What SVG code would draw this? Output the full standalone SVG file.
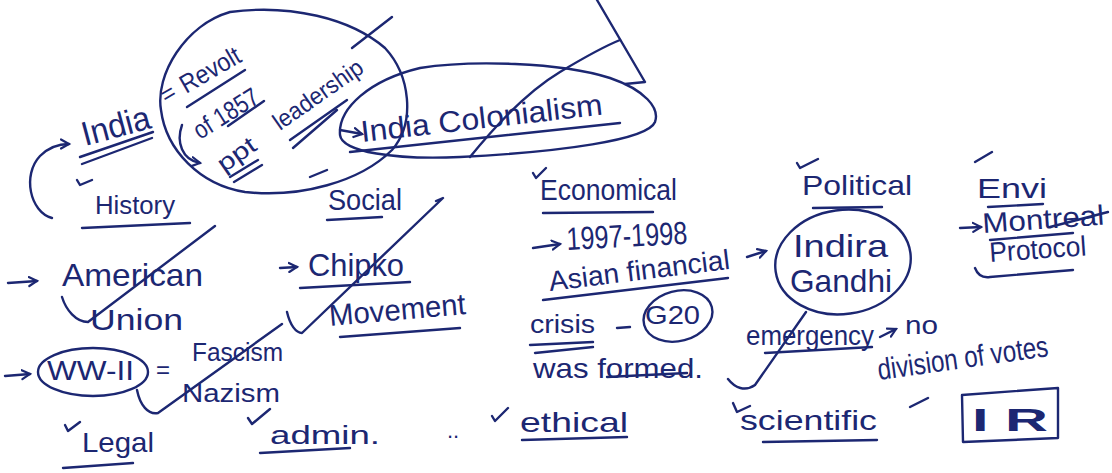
<svg xmlns="http://www.w3.org/2000/svg" width="1112" height="473" viewBox="0 0 1112 473">
<defs>
<style>
.t{font-family:"Liberation Sans","DejaVu Sans",sans-serif;fill:#1c2772;}
.s{fill:none;stroke:#1c2772;stroke-width:2.4;stroke-linecap:round;stroke-linejoin:round;}
</style>
<marker id="ah" markerUnits="userSpaceOnUse" markerWidth="12" markerHeight="12" refX="9" refY="5" orient="auto" viewBox="0 0 12 10">
<path d="M1,0.5 L9,5 L1,9.5" fill="none" stroke="#1c2772" stroke-width="2.2" stroke-linecap="round"/>
</marker>
</defs>
<rect width="1112" height="473" fill="#ffffff"/>

<g id="connectors">
<path class="s" d="M52,218 C30,212 22,175 40,156 C48,148 58,144 69,144" marker-end="url(#ah)"/>
<path class="s" d="M182,125 C176,142 182,160 200,163" marker-end="url(#ah)"/>
<path class="s" d="M8,283 L37,281" marker-end="url(#ah)"/>
<path class="s" d="M5,376 L30,374" marker-end="url(#ah)"/>
<path class="s" d="M280,268 L297,267" marker-end="url(#ah)"/>
<path class="s" d="M340,130 L362,134" marker-end="url(#ah)"/>
<path class="s" d="M533,248 L560,244" marker-end="url(#ah)"/>
<path class="s" d="M747,257 L766,251" marker-end="url(#ah)"/>
<path class="s" d="M880,337 L896,329" marker-end="url(#ah)"/>
<path class="s" d="M960,228 L981,227" marker-end="url(#ah)"/>
</g>

<g id="marks">
<path class="s" d="M597,0 L645,82 L625,84"/>
<path class="s" d="M470,157 C500,120 530,90 560,72 C580,60 600,48 620,40"/>
<path class="s" d="M392,17 L352,48"/>
<path class="s" d="M62,297 C66,310 76,322 88,322 L215,226"/>
<path class="s" d="M137,390 C140,405 148,415 158,413 L282,324"/>
<path class="s" d="M287,312 C290,325 296,333 302,333 L443,198 L436,201"/>
<path class="s" d="M728,379 C735,388 745,392 755,385 L806,312"/>
</g>

<g id="india">
<text class="t" x="85" y="146" font-size="34" textLength="70" lengthAdjust="spacingAndGlyphs" transform="rotate(-15 85 146)">India</text>
<path class="s" d="M80,157 L153,132 M82,164 L152,138"/>
</g>

<g id="history">
<path class="s" d="M77,180 L80,185 L92,180"/>
<text class="t" x="95" y="214" font-size="26" textLength="80" lengthAdjust="spacingAndGlyphs">History</text>
<path class="s" d="M82,228 L190,223"/>
</g>

<g id="revolt">
<path class="s" d="M230,12 C185,25 155,75 161,110 C166,150 200,185 245,192 C300,198 360,182 392,150 C416,122 410,75 385,48 C350,18 290,4 230,12 Z"/>
<text class="t" x="166" y="104" font-size="24" transform="rotate(-30 166 104)">=</text>
<text class="t" x="186" y="94" font-size="26" textLength="66" lengthAdjust="spacingAndGlyphs" transform="rotate(-30 186 94)">Revolt</text>
<path class="s" d="M187,107 L245,70"/>
<text class="t" x="200" y="140" font-size="26" textLength="72" lengthAdjust="spacingAndGlyphs" transform="rotate(-32 200 140)">of 1857</text>
<path class="s" d="M228,126 L264,101"/>
<text class="t" x="224" y="173" font-size="24" textLength="42" lengthAdjust="spacingAndGlyphs" transform="rotate(-35 224 173)">ppt</text>
<path class="s" d="M230,177 L258,160 M234,182 L262,165"/>
<text class="t" x="280" y="131" font-size="24" textLength="104" lengthAdjust="spacingAndGlyphs" transform="rotate(-35 280 131)">leadership</text>
<path class="s" d="M290,140 L347,100 M293,148 L337,110"/>
</g>

<g id="colonialism">
<path class="s" d="M340,135 C338,108 370,80 420,68 C470,60 560,62 610,78 C645,90 660,108 655,122 C648,140 560,152 460,157 C395,160 342,152 340,135 Z"/>
<text class="t" x="362" y="142" font-size="30" textLength="243" lengthAdjust="spacingAndGlyphs" transform="rotate(-6.5 362 142)">India Colonialism</text>
<path class="s" d="M350,152 L620,123"/>
</g>

<g id="social">
<path class="s" d="M310,177 L327,170"/>
<text class="t" x="328" y="210" font-size="30" textLength="74" lengthAdjust="spacingAndGlyphs">Social</text>
<path class="s" d="M327,220 L382,217"/>
</g>

<g id="chipko">
<text class="t" x="308" y="276" font-size="32" textLength="96" lengthAdjust="spacingAndGlyphs">Chipko</text>
<path class="s" d="M300,288 L410,282"/>
<text class="t" x="330" y="326" font-size="30" textLength="137" lengthAdjust="spacingAndGlyphs" transform="rotate(-5 330 326)">Movement</text>
<path class="s" d="M340,337 L460,328"/>
</g>

<g id="american">
<text class="t" x="62" y="286" font-size="32" textLength="141" lengthAdjust="spacingAndGlyphs">American</text>
<text class="t" x="90" y="330" font-size="30" textLength="93" lengthAdjust="spacingAndGlyphs">Union</text>
</g>

<g id="ww2">
<ellipse class="s" cx="93" cy="372" rx="55" ry="24"/>
<text class="t" x="47" y="380" font-size="28" textLength="87" lengthAdjust="spacingAndGlyphs">WW-II</text>
<text class="t" x="156" y="378" font-size="24">=</text>
<text class="t" x="192" y="361" font-size="26" textLength="91" lengthAdjust="spacingAndGlyphs">Fascism</text>
<text class="t" x="182" y="402" font-size="26" textLength="98" lengthAdjust="spacingAndGlyphs">Nazism</text>
</g>

<g id="legal">
<path class="s" d="M65,425 L68,431 L80,422"/>
<text class="t" x="82" y="452" font-size="28" textLength="72" lengthAdjust="spacingAndGlyphs">Legal</text>
<path class="s" d="M63,468 L133,463"/>
</g>

<g id="admin">
<path class="s" d="M248,418 L252,424 L270,409"/>
<text class="t" x="270" y="444" font-size="26" textLength="110" lengthAdjust="spacingAndGlyphs">admin.</text>
<path class="s" d="M260,453 L350,448"/>
<text class="t" x="447" y="438" font-size="22">..</text>
</g>

<g id="ethical">
<path class="s" d="M492,416 L495,421 L508,408"/>
<text class="t" x="520" y="432" font-size="28" textLength="108" lengthAdjust="spacingAndGlyphs">ethical</text>
<path class="s" d="M522,440 L627,437"/>
</g>

<g id="economical">
<path class="s" d="M533,173 L536,178 L546,168"/>
<text class="t" x="540" y="200" font-size="30" textLength="137" lengthAdjust="spacingAndGlyphs">Economical</text>
<path class="s" d="M543,213 L653,212"/>
<text class="t" x="567" y="250" font-size="32" textLength="121" lengthAdjust="spacingAndGlyphs" transform="rotate(-3 567 250)">1997-1998</text>
<text class="t" x="550" y="291" font-size="28" textLength="182" lengthAdjust="spacingAndGlyphs" transform="rotate(-7 550 291)">Asian financial</text>
<path class="s" d="M543,300 L728,278"/>
<text class="t" x="530" y="333" font-size="26" textLength="65" lengthAdjust="spacingAndGlyphs">crisis</text>
<path class="s" d="M530,345 L593,342 M535,353 L593,347"/>
<path class="s" d="M617,328 L630,327"/>
<ellipse class="s" cx="678" cy="316" rx="35" ry="25" transform="rotate(-15 678 316)"/>
<text class="t" x="645" y="324" font-size="26" textLength="55" lengthAdjust="spacingAndGlyphs">G20</text>
<text class="t" x="533" y="378" font-size="28" textLength="170" lengthAdjust="spacingAndGlyphs">was formed.</text>
<path class="s" d="M607,377 L687,373"/>
</g>

<g id="political">
<path class="s" d="M797,163 L800,168 L818,159"/>
<text class="t" x="802" y="195" font-size="28" textLength="110" lengthAdjust="spacingAndGlyphs">Political</text>
<path class="s" d="M813,208 L882,207"/>
</g>

<g id="indira">
<ellipse class="s" cx="843" cy="262" rx="68" ry="52" transform="rotate(-8 843 262)"/>
<text class="t" x="793" y="257" font-size="32" textLength="95" lengthAdjust="spacingAndGlyphs">Indira</text>
<text class="t" x="790" y="292" font-size="32" textLength="102" lengthAdjust="spacingAndGlyphs">Gandhi</text>
</g>

<g id="emergency">
<text class="t" x="746" y="345" font-size="28" textLength="128" lengthAdjust="spacingAndGlyphs">emergency</text>
<path class="s" d="M765,353 L872,347"/>
<text class="t" x="905" y="334" font-size="26" textLength="33" lengthAdjust="spacingAndGlyphs">no</text>
<text class="t" x="879" y="380" font-size="30" textLength="172" lengthAdjust="spacingAndGlyphs" transform="rotate(-8 879 380)">division of votes</text>
</g>

<g id="scientific">
<path class="s" d="M733,403 L737,412 L750,406"/>
<text class="t" x="740" y="430" font-size="28" textLength="137" lengthAdjust="spacingAndGlyphs">scientific</text>
<path class="s" d="M763,442 L877,440"/>
<path class="s" d="M910,407 L928,398"/>
</g>

<g id="ir">
<path class="s" d="M962,395 L1058,388 L1058,438 L963,442 Z"/>
<text class="t" x="972" y="431" font-size="32" font-weight="bold" textLength="76" lengthAdjust="spacingAndGlyphs">I R</text>
</g>

<g id="envi">
<path class="s" d="M975,162 L992,152"/>
<text class="t" x="977" y="198" font-size="28" textLength="70" lengthAdjust="spacingAndGlyphs">Envi</text>
<path class="s" d="M988,207 L1043,204"/>
</g>

<g id="montreal">
<text class="t" x="983" y="233" font-size="28" textLength="122" lengthAdjust="spacingAndGlyphs" transform="rotate(-4 983 233)">Montreal</text>
<path class="s" d="M1050,227 L1108,212"/>
<path class="s" d="M990,240 L1073,233"/>
<text class="t" x="990" y="262" font-size="28" textLength="97" lengthAdjust="spacingAndGlyphs" transform="rotate(-4 990 262)">Protocol</text>
<path class="s" d="M975,268 C978,276 983,278 990,277 L1073,270"/>
</g>
</svg>
